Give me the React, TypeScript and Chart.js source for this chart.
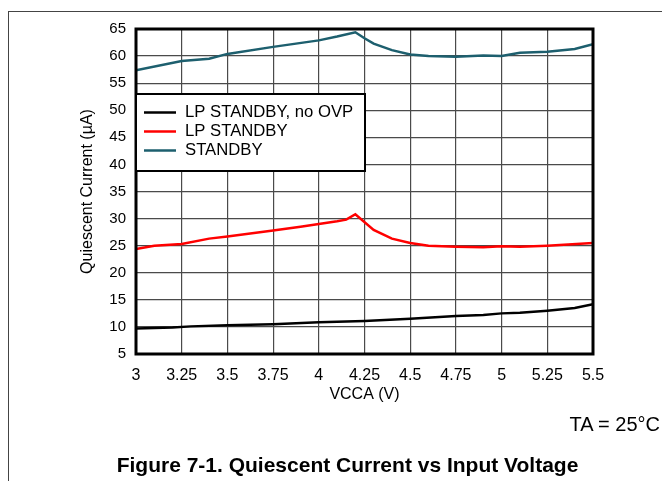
import React, { useEffect, useRef } from "react";
import { Chart, registerables } from "chart.js";

Chart.register(...registerables);

// VCCA (V) sample points
const standbyX = [3.0, 3.25, 3.4, 3.5, 3.75, 4.0, 4.1, 4.2, 4.25, 4.3, 4.4, 4.5, 4.6, 4.75, 4.9, 5.0, 5.1, 5.25, 5.4, 5.5];
const standbyY = [57.4, 59.1, 59.5, 60.4, 61.7, 62.9, 63.6, 64.4, 63.3, 62.3, 61.1, 60.3, 60.0, 59.9, 60.1, 60.0, 60.6, 60.8, 61.3, 62.2];

const lpX = [3.0, 3.1, 3.25, 3.4, 3.5, 3.75, 3.9, 4.0, 4.1, 4.15, 4.2, 4.3, 4.4, 4.5, 4.6, 4.75, 4.9, 5.0, 5.1, 5.25, 5.5];
const lpY = [24.4, 25.0, 25.3, 26.3, 26.7, 27.8, 28.5, 29.0, 29.5, 29.8, 30.8, 27.9, 26.3, 25.5, 25.0, 24.8, 24.7, 24.9, 24.8, 25.0, 25.5];

const noOvpX = [3.0, 3.2, 3.3, 3.5, 3.75, 4.0, 4.25, 4.5, 4.75, 4.9, 5.0, 5.1, 5.25, 5.4, 5.5];
const noOvpY = [9.7, 9.9, 10.1, 10.3, 10.5, 10.85, 11.1, 11.5, 12.0, 12.2, 12.5, 12.6, 13.0, 13.5, 14.2];

const seriesNames = ["LP STANDBY, no OVP", "LP STANDBY", "STANDBY"];
const seriesColors = ["#000000", "#ff0000", "#1d5f6e"];

const xTicks = [3, 3.25, 3.5, 3.75, 4, 4.25, 4.5, 4.75, 5, 5.25, 5.5];
const yMin = 5;
const yMax = 65;
const yStep = 5;

const xTitle = "VCCA (V)";
const yTitle = "Quiescent Current (\u00b5A)";
const noteText = "TA = 25\u00b0C";
const captionText = "Figure 7-1. Quiescent Current vs Input Voltage";

const FONT = "Arial, 'Liberation Sans', sans-serif";

const toPts = (xs: number[], ys: number[]) => xs.map((x, i) => ({ x, y: ys[i] }));

const frameAndLegend = {
  id: "frameAndLegend",
  afterDraw(chart: any) {
    const { ctx, chartArea } = chart;
    const { left, top, right, bottom } = chartArea;
    ctx.save();
    // plot border
    ctx.strokeStyle = "#000";
    ctx.lineWidth = 3;
    ctx.strokeRect(left, top, right - left, bottom - top);
    // legend box
    const lx = left;
    const ly = 94;
    const lw = 229;
    const lh = 77;
    ctx.fillStyle = "#fff";
    ctx.fillRect(lx, ly, lw, lh);
    ctx.lineWidth = 2;
    ctx.strokeStyle = "#000";
    ctx.strokeRect(lx, ly, lw, lh);
    const rows = [112.5, 131.5, 150.5];
    ctx.font = `16.7px ${FONT}`;
    ctx.textBaseline = "middle";
    ctx.textAlign = "left";
    rows.forEach((ry, i) => {
      ctx.strokeStyle = seriesColors[i];
      ctx.lineWidth = 2.5;
      ctx.beginPath();
      ctx.moveTo(lx + 8, ry);
      ctx.lineTo(lx + 40, ry);
      ctx.stroke();
      ctx.fillStyle = "#000";
      ctx.fillText(seriesNames[i], lx + 49, ry);
    });
    ctx.restore();
  },
};

export default function App() {
  const ref = useRef<HTMLCanvasElement | null>(null);

  useEffect(() => {
    if (!ref.current) return;
    const chart = new Chart(ref.current, {
      type: "scatter",
      data: {
        datasets: [
          { label: seriesNames[0], data: toPts(noOvpX, noOvpY), borderColor: seriesColors[0], showLine: true, pointRadius: 0, borderWidth: 2.5, order: 3 },
          { label: seriesNames[1], data: toPts(lpX, lpY), borderColor: seriesColors[1], showLine: true, pointRadius: 0, borderWidth: 2.5, order: 2 },
          { label: seriesNames[2], data: toPts(standbyX, standbyY), borderColor: seriesColors[2], showLine: true, pointRadius: 0, borderWidth: 2.5, order: 1 },
        ],
      },
      options: {
        responsive: false,
        animation: false,
        layout: { padding: { left: 78, top: 29, right: 69, bottom: 77 } },
        plugins: { legend: { display: false }, tooltip: { enabled: false } },
        scales: {
          x: {
            type: "linear",
            min: 3,
            max: 5.5,
            afterBuildTicks: (scale: any) => {
              scale.ticks = xTicks.map((v) => ({ value: v }));
            },
            afterFit: (scale: any) => {
              scale.height = 50;
            },
            grid: { color: "#4a4a4a", lineWidth: 1.2, drawTicks: false },
            border: { display: false },
            ticks: {
              color: "#000",
              font: { family: FONT, size: 16 },
              padding: 12,
              maxRotation: 0,
              autoSkip: false,
              callback: (v: any) => String(v),
            },
            title: {
              display: true,
              text: xTitle,
              color: "#000",
              font: { family: FONT, size: 16 },
              padding: { top: 0, bottom: 0 },
            },
          },
          y: {
            min: yMin,
            max: yMax,
            afterFit: (scale: any) => {
              scale.width = 58;
            },
            grid: { color: "#4a4a4a", lineWidth: 1.2, drawTicks: false },
            border: { display: false },
            ticks: {
              stepSize: yStep,
              color: "#000",
              font: { family: FONT, size: 15 },
              padding: 10,
            },
            title: {
              display: true,
              text: yTitle,
              color: "#000",
              font: { family: FONT, size: 16 },
              padding: { top: 0, bottom: 0 },
            },
          },
        },
      },
      plugins: [frameAndLegend],
    } as any);
    return () => chart.destroy();
  }, []);

  return (
    <div style={{ position: "absolute", left: 0, top: 0, width: 662, height: 481, background: "#fff", overflow: "hidden", fontFamily: FONT }}>
      <div style={{ position: "absolute", left: 8, top: 11, width: 654, height: 470, borderLeft: "1.5px solid #444", borderTop: "1.5px solid #444" }} />
      <canvas ref={ref} width={662} height={481} style={{ position: "absolute", left: 0, top: 0 }} />
      <div style={{ position: "absolute", right: 2, top: 413, fontSize: 20, lineHeight: "23px", color: "#000", whiteSpace: "nowrap" }}>{noteText}</div>
      <div style={{ position: "absolute", left: 0, width: 695, top: 453, textAlign: "center", fontSize: 21, lineHeight: "24px", fontWeight: "bold", color: "#000", whiteSpace: "nowrap" }}>{captionText}</div>
    </div>
  );
}
